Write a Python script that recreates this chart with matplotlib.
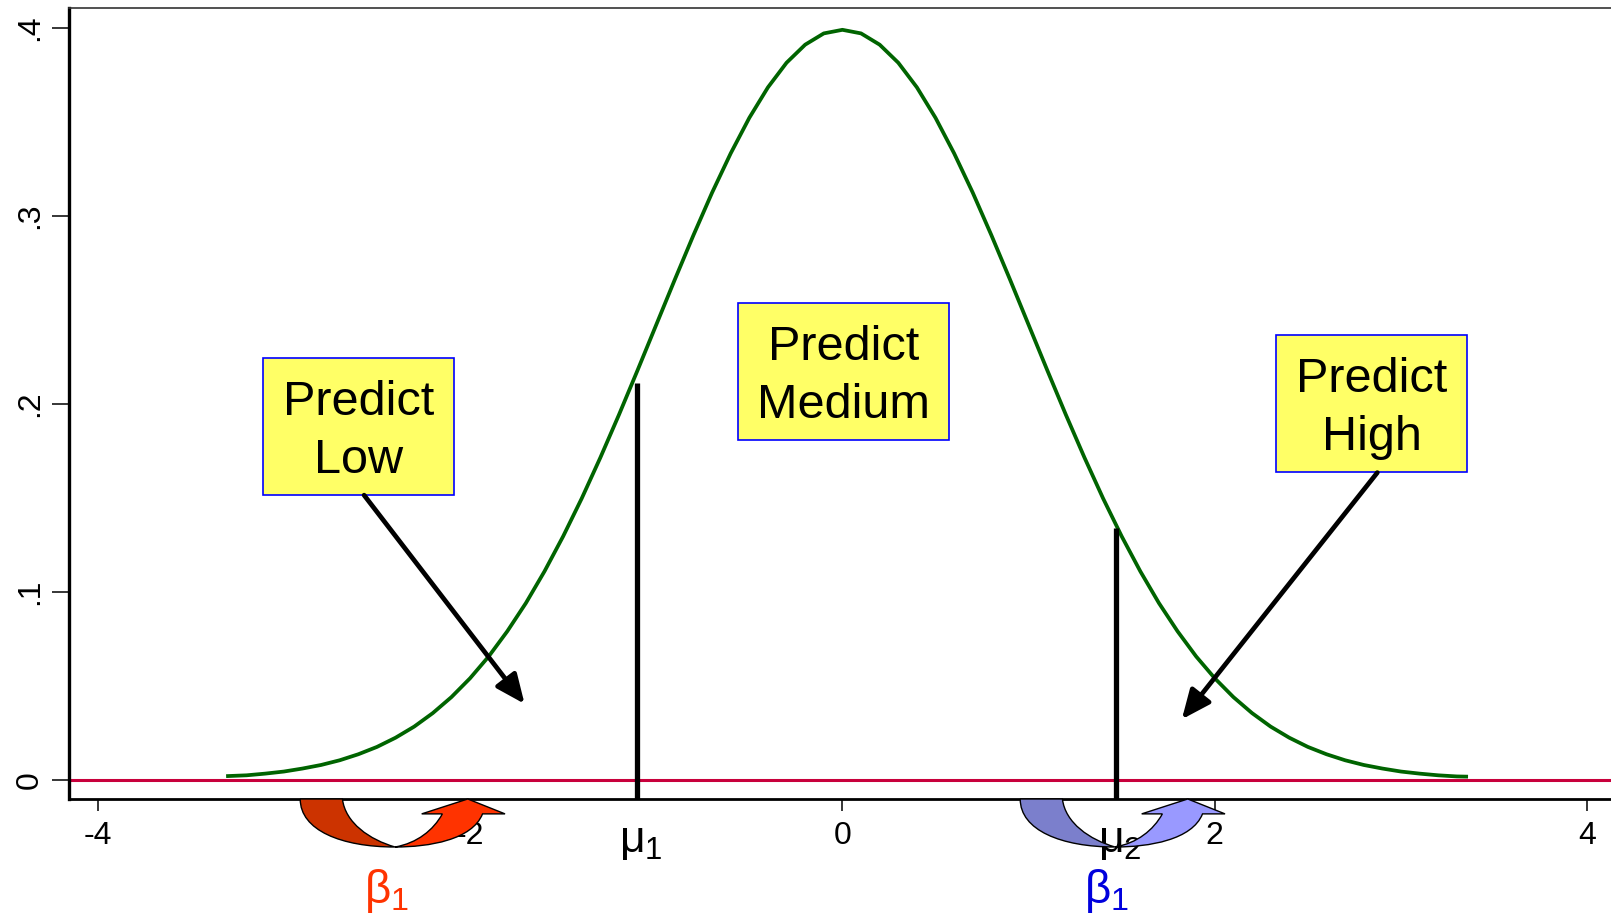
import numpy as np
import matplotlib.pyplot as plt
from matplotlib.patches import Rectangle, PathPatch
from matplotlib.path import Path
from matplotlib.transforms import blended_transform_factory

plt.rcParams['font.family'] = ['Liberation Sans', 'DejaVu Sans']
plt.rcParams['axes.unicode_minus'] = False
plt.rcParams['mathtext.fontset'] = 'custom'
plt.rcParams['mathtext.rm'] = 'Liberation Sans'
plt.rcParams['mathtext.it'] = 'Liberation Sans'

# density of the latent variable
dens_x = [-3.3, -3.2, -3.1, -3.0, -2.9, -2.8, -2.7, -2.6, -2.5, -2.4, -2.3, -2.2,
          -2.1, -2.0, -1.9, -1.8, -1.7, -1.6, -1.5, -1.4, -1.3, -1.2, -1.1, -1.0,
          -0.9, -0.8, -0.7, -0.6, -0.5, -0.4, -0.3, -0.2, -0.1, 0.0, 0.1, 0.2,
          0.3, 0.4, 0.5, 0.6, 0.7, 0.8, 0.9, 1.0, 1.1, 1.2, 1.3, 1.4, 1.5, 1.6,
          1.7, 1.8, 1.9, 2.0, 2.1, 2.2, 2.3, 2.4, 2.5, 2.6, 2.7, 2.8, 2.9, 3.0,
          3.1, 3.2, 3.3, 3.35]
dens_y = [0.0020, 0.0024, 0.0033, 0.0044, 0.0060, 0.0079, 0.0104, 0.0136, 0.0175,
          0.0224, 0.0283, 0.0355, 0.0440, 0.0540, 0.0656, 0.0790, 0.0940, 0.1109,
          0.1295, 0.1497, 0.1714, 0.1942, 0.2179, 0.2420, 0.2661, 0.2897, 0.3123,
          0.3332, 0.3521, 0.3683, 0.3814, 0.3910, 0.3970, 0.3989, 0.3970, 0.3910,
          0.3814, 0.3683, 0.3521, 0.3332, 0.3123, 0.2897, 0.2661, 0.2420, 0.2179,
          0.1942, 0.1714, 0.1497, 0.1295, 0.1109, 0.0940, 0.0790, 0.0656, 0.0540,
          0.0440, 0.0355, 0.0283, 0.0224, 0.0175, 0.0136, 0.0104, 0.0079, 0.0060,
          0.0044, 0.0033, 0.0024, 0.0018, 0.0017]

# thresholds and the density height at each
cut_x = [-1.105, 1.47]
cut_top = [0.211, 0.134]
cut_labels = [r'$\mu_1$', r'$\mu_2$']

# prediction boxes: (left, bottom, width, height) in data units
box_texts = ['Predict\nLow', 'Predict\nMedium', 'Predict\nHigh']
box_left = [-3.11, -0.563, 2.331]
box_bottom = [0.1514, 0.1809, 0.1639]
box_width = [1.022, 1.138, 1.022]
box_height = [0.0727, 0.0727, 0.0727]

# pointer arrows: start (below box) and end
arrow_start = [(-2.569, 0.1514), (2.873, 0.1634)]
arrow_end = [(-1.707, 0.0404), (1.823, 0.0322)]

# shift arrows below the axis: x span in data units
shift_span = [(-2.912, -1.812), (0.955, 2.055)]
shift_back = ['#CC3300', '#7B7FCC']
shift_front = ['#FF3300', '#9999FF']
beta_x = [-2.45, 1.42]
beta_color = ['#FF3300', '#0000DD']

xticks = [-4, -2, 0, 2, 4]
xtick_labels = ['-4', '-2', '0', '2', '4']
yticks = [0, 0.1, 0.2, 0.3, 0.4]
ytick_labels = ['0', '.1', '.2', '.3', '.4']

W, H = 1611, 916
fig = plt.figure(figsize=(W / 100, H / 100), dpi=100)
ax = fig.add_axes([68.8 / W, 1 - 799 / H, 1 - 68.8 / W, (799 - 8.2) / H])
ax.set_xlim(-4.155, 4.128)
ax.set_ylim(-0.0102, 0.4104)

ax.plot(dens_x, dens_y, color='#006400', lw=2.7, zorder=3)
ax.axhline(0, color='#C8003C', lw=2.2, zorder=2)
ax.vlines(cut_x, -0.0102, cut_top, color='black', lw=3.8, zorder=3)

for lx, by, bw, bh, txt in zip(box_left, box_bottom, box_width, box_height, box_texts):
    ax.add_patch(Rectangle((lx, by), bw, bh, facecolor='#FFFF66',
                           edgecolor='#0000FF', lw=1.2, zorder=4))
    ax.text(lx + bw / 2, by + bh / 2 - 0.0026, txt, ha='center', va='center',
            fontsize=35, linespacing=1.37, zorder=5)

for (sx, sy), (ex, ey) in zip(arrow_start, arrow_end):
    ax.annotate('', xy=(ex, ey), xytext=(sx, sy),
                arrowprops=dict(arrowstyle='-|>,head_length=0.8,head_width=0.35',
                                color='black', lw=3.4, mutation_scale=22,
                                shrinkA=0, shrinkB=0), zorder=5)

# threshold labels under the axis
for cx, lab in zip(cut_x, cut_labels):
    ax.text(cx + 0.02, -0.033, lab, ha='center', va='center', fontsize=32,
            clip_on=False, zorder=1)


def curved_arrow(ax, x_left, x_right, back_color, front_color, depth=0.0607):
    """U-shaped arrow hanging below the x axis, x in data, y in axes units."""
    trans = blended_transform_factory(ax.transData, ax.transAxes)
    span = x_right - x_left

    def pts(uv):
        return [(x_left + u * span, -v * depth) for u, v in uv]

    back = [(0, 0), (0, 0.65), (0.2, 1), (0.463, 1),
            (0.34, 0.85), (0.22, 0.5), (0.206, 0), (0, 0)]
    back_codes = [Path.MOVETO, Path.CURVE4, Path.CURVE4, Path.CURVE4,
                  Path.CURVE4, Path.CURVE4, Path.CURVE4, Path.CLOSEPOLY]
    front = [(0.463, 1), (0.63, 1), (0.84, 0.85), (0.89, 0.31),
             (1.0, 0.31), (0.818, 0), (0.593, 0.31), (0.694, 0.31),
             (0.65, 0.65), (0.57, 0.92), (0.463, 1), (0.463, 1)]
    front_codes = [Path.MOVETO, Path.CURVE4, Path.CURVE4, Path.CURVE4,
                   Path.LINETO, Path.LINETO, Path.LINETO, Path.LINETO,
                   Path.CURVE4, Path.CURVE4, Path.CURVE4, Path.CLOSEPOLY]
    for verts, codes, col in [(back, back_codes, back_color),
                              (front, front_codes, front_color)]:
        patch = PathPatch(Path(pts(verts), codes), facecolor=col,
                          edgecolor='black', lw=1.0, transform=trans,
                          clip_on=False, zorder=6)
        ax.add_patch(patch)


for (x0, x1), cb, cf in zip(shift_span, shift_back, shift_front):
    curved_arrow(ax, x0, x1, cb, cf)

# beta labels
for bx, bc in zip(beta_x, beta_color):
    ax.text(bx, -0.059, r'$\beta_1$', color=bc, ha='center', va='center',
            fontsize=33, clip_on=False)

ax.set_xticks(xticks)
ax.set_xticklabels(xtick_labels)
ax.set_yticks(yticks)
ax.set_yticklabels(ytick_labels, rotation=90, va='center')
ax.tick_params(axis='x', length=8.5, width=1.1, labelsize=23, pad=7.5)
ax.tick_params(axis='y', length=12, width=1.1, labelsize=23, pad=5)

ax.spines['right'].set_visible(False)
ax.spines['left'].set_linewidth(2.4)
ax.spines['bottom'].set_linewidth(2.0)
ax.spines['top'].set_linewidth(1.2)
ax.spines['top'].set_color('#333333')

fig.savefig('out.png', dpi=100)
